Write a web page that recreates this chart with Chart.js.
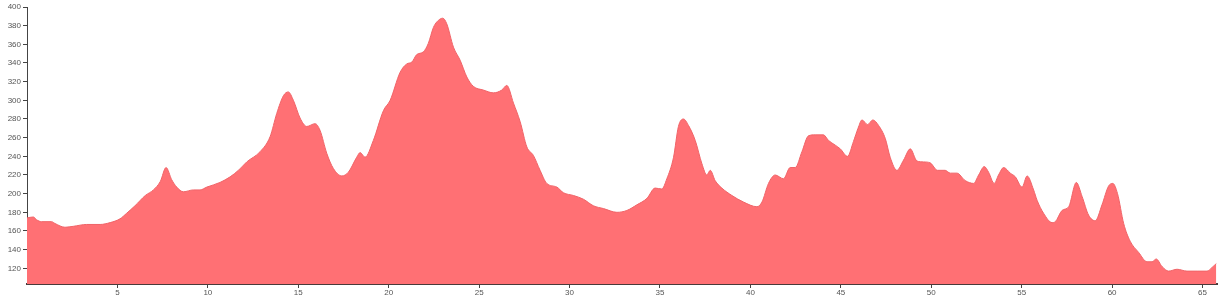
<!DOCTYPE html>
<html>
<head>
<meta charset="utf-8">
<script src="https://cdn.jsdelivr.net/npm/chart.js@4.4.1/dist/chart.umd.min.js"></script>
<style>
    html, body { margin: 0; padding: 0; background: #fff; }
    #wrap { width: 1220px; height: 305px; }
</style>
</head>
<body>
<div id="wrap"><canvas id="profileChart" width="1220" height="305"></canvas></div>
<script>
// Elevation profile data (distance in km, elevation in m)
const distances = [0, 0.35, 0.53, 0.81, 1.36, 1.55, 2.1, 2.56, 3.3, 4.04, 4.6, 5.14, 5.51, 5.97, 6.54, 6.99, 7.37, 7.69, 8.0, 8.28, 8.65, 9.2, 9.57, 9.94, 10.67, 11.23, 11.69, 12.15, 12.89, 13.44, 13.81, 14.18, 14.45, 14.73, 15.1, 15.47, 15.93, 16.2, 16.58, 16.94, 17.41, 17.77, 18.23, 18.42, 18.69, 19.15, 19.71, 20.08, 20.63, 21.0, 21.28, 21.55, 21.92, 22.19, 22.47, 22.66, 22.99, 23.21, 23.58, 23.95, 24.32, 24.68, 25.24, 25.79, 26.25, 26.53, 26.9, 27.27, 27.64, 28.0, 28.37, 28.74, 29.3, 29.66, 30.22, 30.77, 31.32, 31.88, 32.62, 33.17, 33.72, 34.28, 34.73, 35.1, 35.38, 35.75, 36.02, 36.3, 36.58, 36.95, 37.32, 37.59, 37.78, 38.05, 38.42, 38.98, 39.62, 40.36, 40.64, 41.0, 41.37, 41.83, 42.2, 42.48, 42.85, 43.21, 43.58, 44.04, 44.32, 44.69, 44.97, 45.37, 45.7, 45.95, 46.17, 46.48, 46.77, 47.09, 47.46, 47.73, 48.1, 48.47, 48.84, 49.21, 49.58, 49.94, 50.35, 50.77, 51.05, 51.42, 51.88, 52.34, 52.62, 52.93, 53.17, 53.48, 53.72, 54.0, 54.37, 54.65, 55.02, 55.3, 55.66, 55.85, 56.21, 56.68, 56.86, 57.23, 57.6, 58.02, 58.34, 58.7, 59.07, 59.44, 59.8, 60.04, 60.3, 60.64, 61.0, 61.47, 61.93, 62.21, 62.44, 62.76, 63.13, 63.59, 64.14, 64.7, 65.25, 65.53, 65.76];
const elevations = [174, 175, 172, 170, 170, 168, 164, 165, 167, 167, 169, 173, 179, 187, 198, 204, 213, 228, 215, 207, 202, 204, 204, 207, 212, 218, 225, 234, 245, 261, 286, 305, 309, 300, 281, 272, 275, 268, 243, 227, 219, 223, 239, 244, 239, 257, 289, 300, 330, 339, 341, 349, 352, 361, 378, 384, 388, 382, 357, 343, 325, 315, 311, 308, 311, 316, 297, 277, 250, 241, 225, 211, 207, 201, 198, 194, 187, 184, 180, 182, 188, 195, 206, 205, 216, 239, 272, 280, 273, 257, 232, 220, 225, 214, 206, 198, 191, 186, 191, 211, 220, 216, 228, 228, 245, 262, 263, 263, 257, 252, 248, 240, 256, 270, 279, 274, 279, 273, 259, 239, 225, 236, 248, 235, 234, 233, 225, 225, 222, 222, 214, 211, 220, 229, 223, 211, 220, 228, 222, 218, 207, 219, 204, 193, 179, 169, 170, 182, 186, 212, 197, 177, 171, 188, 208, 211, 200, 168, 149, 137, 127, 127, 130, 122, 117, 119, 117, 117, 117, 121, 125];

// Axis tick labels
const xTicks = [5, 10, 15, 20, 25, 30, 35, 40, 45, 50, 55, 60, 65];
const yTicks = [120, 140, 160, 180, 200, 220, 240, 260, 280, 300, 320, 340, 360, 380, 400];

Chart.defaults.font.family = 'Liberation Sans';
Chart.defaults.font.size = 8;
Chart.defaults.color = '#555';

const points = distances.map((d, i) => ({ x: d, y: elevations[i] }));

const ctx = document.getElementById('profileChart').getContext('2d');
new Chart(ctx, {
    type: 'line',
    data: {
        datasets: [{
            data: points,
            borderColor: '#f06468',
            borderWidth: 1,
            backgroundColor: '#ff7074',
            fill: 'start',
            pointRadius: 0,
            cubicInterpolationMode: 'monotone'
        }]
    },
    options: {
        responsive: false,
        animation: false,
        layout: { padding: { top: 7, right: 3, left: 0, bottom: 0 }, autoPadding: false },
        plugins: { legend: { display: false }, tooltip: { enabled: false } },
        scales: {
            x: {
                type: 'linear', min: 0, max: 65.8,
                afterBuildTicks: (scale) => { scale.ticks = xTicks.map(v => ({ value: v })); },
                afterFit: (scale) => { scale.height = 21; },
                grid: { drawOnChartArea: false, tickLength: 4, color: '#444' },
                border: { color: '#4a3a3a', width: 2 },
                ticks: { padding: 0, maxRotation: 0, autoSkip: false }
            },
            y: {
                min: 103.2, max: 400,
                afterBuildTicks: (scale) => { scale.ticks = yTicks.map(v => ({ value: v })); },
                afterFit: (scale) => { scale.width = 27; },
                grid: { drawOnChartArea: false, tickLength: 4, color: '#444' },
                border: { color: '#444', width: 1 },
                ticks: { padding: 2, autoSkip: false }
            }
        }
    }
});
</script>
</body>
</html>
